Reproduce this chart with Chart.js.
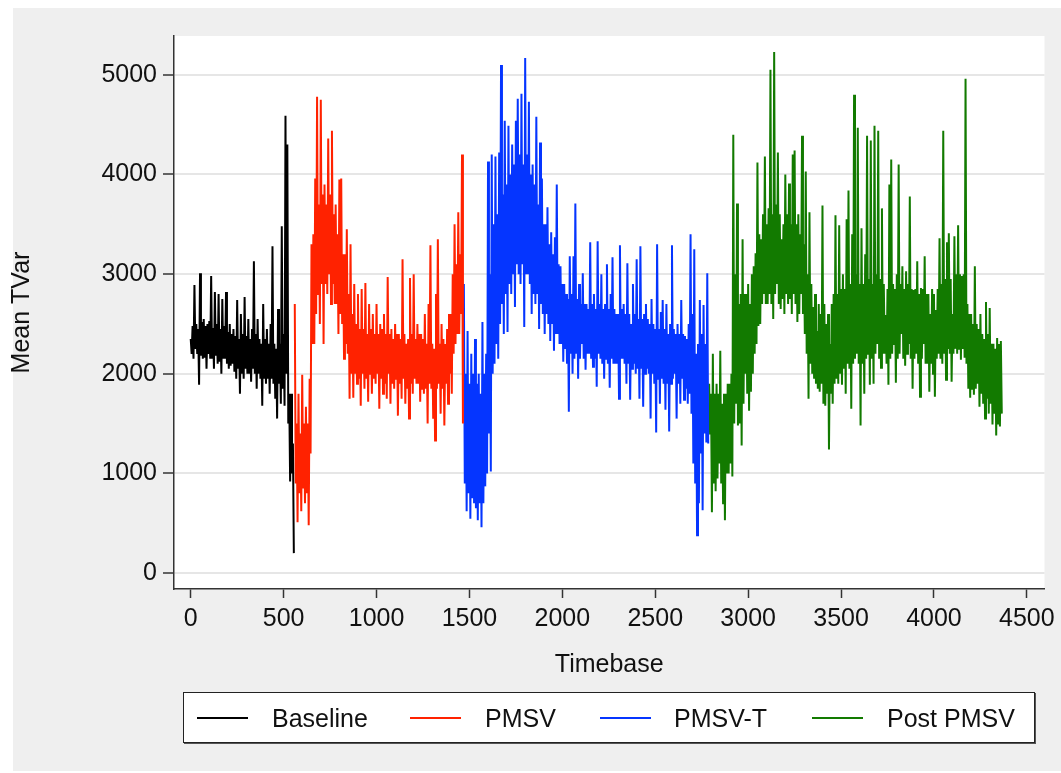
<!DOCTYPE html>
<html>
<head>
<meta charset="utf-8">
<script src="https://cdn.jsdelivr.net/npm/chart.js@4.4.1/dist/chart.umd.min.js"></script>
<style>
  body { margin: 0; background: #fff; font-family: "Liberation Sans", Arial, sans-serif; }
  #wrap { position: relative; width: 1061px; height: 773px; }
  #legend {
    position: absolute; left: 183px; top: 692px; width: 850px; height: 49px;
    background: #fff; border: 1px solid #222; box-shadow: 1px 1px 0 #555;
  }
  .key { position: absolute; top: 24px; height: 2px; width: 51px; }
  .lab { position: absolute; top: 11px; font-size: 25px; line-height: 28px; color: #111; white-space: nowrap; }
</style>
</head>
<body>
<div id="wrap">
  <canvas id="chartTVar" width="1061" height="773"></canvas>
  <div id="legend"></div>
</div>
<script>
// values every 5 timebase units
const sampleStep = 5;
const timebaseTicks = [0, 500, 1000, 1500, 2000, 2500, 3000, 3500, 4000, 4500];
const tvarTicks = [0, 1000, 2000, 3000, 4000, 5000];

const seriesNames = ["Baseline", "PMSV", "PMSV-T", "Post PMSV"];
const seriesColors = ["#000000", "#ff2200", "#0535ff", "#127a00"];
const seriesStart = [0, 560, 1470, 2790];

const baseline = [
  2350, 2200, 2480, 2150, 2890, 2250, 2500, 2200, 2450, 1890,
  3010, 2180, 2520, 2150, 2550, 2160, 2480, 2050, 2500, 2200,
  2530, 2150, 2980, 2150, 2460, 2050, 2820, 2180, 2500, 2100,
  2800, 2120, 2450, 2000, 2750, 2150, 2480, 2150, 2820, 2100,
  2420, 2050, 2500, 2080, 2400, 2100, 2450, 2020, 2380, 1950,
  2740, 2050, 2350, 1800, 2600, 2000, 2400, 1950, 2770, 2050,
  2380, 2000, 2550, 2000, 2350, 1920, 2450, 2050, 3130, 2000,
  2400, 1850, 2550, 2000, 2350, 1950, 2300, 1680, 2700, 1950,
  2350, 1900, 2450, 1950, 2300, 1800, 2500, 1950, 3280, 1900,
  2300, 1750, 2250, 1550, 2650, 1900, 2300, 1700, 3480, 1850,
  2400, 1680, 4590, 2000, 4300, 1500, 1800, 920, 1800, 1000, 1300, 200
];

const pmsv = [
  2700, 900, 1500, 510, 1800, 800, 1400, 620, 1990, 850,
  1500, 700, 1670, 800, 1500, 480, 1950, 1200, 3300, 2300,
  3400, 2300, 3960, 2600, 4780, 2800, 3700, 2500, 4750, 2900,
  3800, 2300, 3900, 2900, 3700, 2800, 4360, 3000, 3800, 2700,
  4440, 2900, 3600, 2700, 3700, 2700, 3400, 2400, 3950, 2600,
  3960, 2500, 3200, 2150, 3200, 2300, 3450, 2200, 2800, 1750,
  3300, 2000, 2600, 1760, 2900, 2000, 2500, 1900, 2800, 1950,
  2450, 1680, 2850, 2000, 2450, 1850, 2910, 1950, 2400, 1720,
  2700, 2000, 2450, 1800, 2600, 1950, 2400, 1900, 2700, 2000,
  2400, 1650, 2500, 1950, 2450, 1800, 2600, 1900, 2400, 1750,
  2970, 2000, 2400, 1700, 2450, 1900, 2350, 1850, 2500, 1950,
  2400, 1580, 2400, 1900, 2350, 1750, 3150, 1950, 2400, 1700,
  2300, 1850, 2350, 1550, 2960, 1900, 2400, 1800, 3000, 1950,
  2350, 1900, 2500, 1900, 2400, 1720, 2400, 1850, 2350, 1800,
  2600, 1850, 2300, 1500, 2700, 1900, 3290, 1850, 2300, 1550,
  2250, 1330, 2800, 1850, 3350, 1900, 2300, 1600, 2500, 1850,
  2350, 1480, 2300, 1900, 2450, 1700, 2600, 2000, 2600, 1800,
  3000, 2200, 3500, 2300, 3100, 2400, 3620, 2400, 3200, 2600,
  4200, 1500
];

const pmsvT = [
  2900, 900, 2000, 620, 2430, 800, 1900, 545, 2200, 750,
  2000, 700, 2350, 650, 1900, 530, 2000, 700, 1800, 460,
  2520, 700, 2000, 870, 2200, 1000, 4130, 1400, 3000, 1020,
  4200, 2000, 3500, 2100, 4180, 2300, 3600, 2150, 4220, 2500,
  5100, 2700, 3800, 2400, 4540, 2800, 3900, 2420, 4490, 2900,
  4000, 2800, 4300, 3000, 4100, 2670, 4540, 3100, 4760, 3000,
  4200, 2900, 4810, 3100, 4100, 2470, 5170, 3000, 4200, 3000,
  4730, 2900, 4000, 2600, 4100, 2800, 3900, 2700, 4580, 2800,
  3700, 2450, 4320, 2700, 3960, 2600, 3500, 2400, 3500, 2600,
  3670, 2500, 3300, 2330, 3420, 2500, 3200, 2230, 3370, 2400,
  3900, 2400, 3100, 2300, 3080, 2300, 2900, 2120, 2900, 2250,
  2800, 2100, 2750, 1620, 3180, 2200, 2800, 2000, 3180, 2150,
  3710, 2200, 2750, 1950, 2900, 2150, 2700, 2300, 3010, 2150,
  2700, 2040, 2700, 2200, 2650, 2200, 3320, 2150, 2700, 2070,
  2800, 2150, 2650, 1870, 3330, 2200, 2700, 2150, 3000, 2100,
  2650, 1950, 2700, 2150, 3100, 2100, 2650, 1860, 2800, 2150,
  3170, 2100, 2650, 2100, 2600, 2100, 2600, 1750, 3290, 2150,
  2650, 2150, 2700, 2100, 2600, 1900, 3110, 2100, 2600, 1740,
  2500, 2050, 2900, 2100, 2600, 2000, 3150, 2050, 2550, 1750,
  3280, 2050, 2550, 1670, 2600, 2000, 2700, 2050, 2550, 2000,
  2500, 1550, 2750, 2000, 2500, 1900, 2450, 1410, 3300, 1950,
  2450, 1700, 2620, 1950, 2740, 1900, 2450, 1640, 2700, 1900,
  2400, 1420, 2500, 1900, 3290, 1950, 2450, 2000, 2400, 1550,
  2500, 1900, 2400, 1700, 2740, 1950, 2400, 1740, 2380, 1850,
  2350, 1700, 2500, 1800, 3400, 1600, 2600, 1100, 3250, 900,
  2200, 380, 2300, 700, 2740, 1200, 2400, 630, 2690, 1400,
  2300, 1310, 3010, 1300
];

const postPmsv = [
  1900, 1400, 1800, 610, 2200, 900, 1800, 820, 1900, 950,
  1800, 1100, 2230, 900, 1700, 700, 1800, 530, 1800, 1000,
  1900, 1000, 1900, 1100, 2000, 970, 4400, 1500, 3000, 1700,
  3710, 1480, 2700, 1500, 2800, 1280, 3350, 1700, 2800, 2000,
  2800, 1800, 2900, 1630, 2700, 1820, 3000, 2000, 3080, 2200,
  3210, 2300, 4120, 2480, 3400, 2500, 3350, 2700, 3600, 2800,
  4180, 2700, 3500, 2700, 3660, 2800, 5050, 2700, 3600, 2550,
  5230, 2800, 3700, 2900, 4220, 2700, 3600, 2650, 3350, 2750,
  3500, 2600, 4000, 2800, 3600, 2700, 3910, 2750, 3500, 2600,
  4200, 2800, 4240, 2700, 3500, 2520, 3600, 2600, 3400, 2800,
  4390, 2600, 3300, 2400, 4030, 2200, 3000, 1750, 3620, 2100,
  2900, 2000, 2670, 1950, 2800, 1900, 2430, 1850, 2700, 1820,
  2600, 1900, 3690, 1700, 2700, 1680, 2500, 1800, 2600, 1240,
  2300, 1800, 2700, 1700, 2800, 1900, 3590, 1950, 2800, 1900,
  3490, 2000, 2850, 1890, 3000, 2050, 2850, 1800, 3550, 2100,
  3840, 2050, 2900, 1650, 3400, 2100, 4800, 2150, 3000, 2200,
  4470, 2100, 2900, 1480, 3460, 2100, 2900, 1800, 3200, 2150,
  4390, 2200, 2950, 1890, 4340, 2150, 2900, 1900, 4490, 2200,
  3000, 2300, 4440, 2150, 2950, 2060, 3660, 2200, 2900, 2200,
  2590, 2100, 2850, 1890, 3900, 2150, 4150, 2200, 2900, 2300,
  2850, 1910, 3000, 2150, 4100, 2200, 2900, 2400, 3080, 2150,
  2850, 2080, 3030, 2200, 2900, 2300, 3780, 2150, 2850, 1850,
  2840, 2150, 2850, 2200, 3130, 2100, 2800, 1770, 2860, 2150,
  2850, 2300, 3180, 2100, 2800, 2100, 2800, 1820, 2600, 2100,
  2850, 2000, 2800, 1770, 2640, 2150, 2850, 2200, 3360, 2150,
  2900, 2100, 4440, 2200, 2950, 1940, 3320, 2250, 3410, 2200,
  2950, 1920, 2600, 2200, 3380, 2250, 3000, 2200, 3490, 2250,
  3000, 2140, 2980, 2250, 3000, 2160, 4960, 2100, 2700, 1850,
  2600, 1760, 2600, 1850, 2500, 1790, 3080, 1850, 2500, 1900,
  2450, 1670, 2600, 1800, 2400, 1700, 2350, 1550, 2720, 1750,
  2400, 1600, 2660, 1700, 2300, 1490, 2300, 1600, 2250, 1380,
  2360, 1500, 2300, 1470, 2330, 1600
];

const seriesValues = [baseline, pmsv, pmsvT, postPmsv];

Chart.defaults.font.family = '"Liberation Sans", Arial, sans-serif';
Chart.defaults.color = "#111";

const panelBg = {
  id: "panelBg",
  beforeDraw(chart) {
    const { ctx, chartArea: a } = chart;
    ctx.save();
    ctx.fillStyle = "#ffffff";
    ctx.fillRect(0, 0, chart.width, chart.height);
    ctx.fillStyle = "#efefef";
    ctx.fillRect(13, 8, chart.width - 13, 763);
    ctx.fillStyle = "#ffffff";
    ctx.fillRect(a.left, a.top, a.right - a.left, a.bottom - a.top);
    ctx.restore();
  }
};

const datasets = seriesNames.map((name, i) => ({
  label: name,
  data: seriesValues[i].map((v, k) => ({ x: seriesStart[i] + k * sampleStep, y: v })),
  borderColor: seriesColors[i],
  backgroundColor: seriesColors[i],
  borderWidth: 2,
  pointRadius: 0,
  tension: 0,
  fill: false
}));

new Chart(document.getElementById("chartTVar"), {
  type: "line",
  data: { datasets },
  plugins: [panelBg],
  options: {
    responsive: false,
    animation: false,
    devicePixelRatio: 1,
    layout: { padding: { left: 0, top: 36, right: 16, bottom: 84 } },
    plugins: { legend: { display: false }, tooltip: { enabled: false } },
    scales: {
      x: {
        type: "linear",
        min: -90,
        max: 4595,
        afterBuildTicks: s => { s.ticks = timebaseTicks.map(v => ({ value: v })); },
        afterFit: s => { s.height = 100; },
        grid: { drawOnChartArea: false, tickLength: 9, tickColor: "#333", tickWidth: 1.5 },
        border: { color: "#333", width: 1.5 },
        ticks: { font: { size: 25 }, padding: 6, maxRotation: 0, autoSkip: false, callback: v => String(v) },
        title: { display: true, text: "Timebase", font: { size: 25 }, padding: { top: 0, bottom: 9 } }
      },
      y: {
        min: -160,
        max: 5390,
        afterBuildTicks: s => { s.ticks = tvarTicks.map(v => ({ value: v })); },
        afterFit: s => { s.width = 174; },
        grid: { color: "#e6e6e6", lineWidth: 2, tickLength: 11, tickColor: "#333", tickWidth: 1.5 },
        border: { color: "#333", width: 1.5 },
        ticks: { font: { size: 25 }, padding: 6, autoSkip: false, callback: v => String(v) },
        title: { display: true, text: "Mean TVar", font: { size: 25 }, padding: { top: 7, bottom: 0 } }
      }
    }
  }
});

// legend as html, same names and colours as the datasets
const legendPos = [[13, 88], [226, 301], [416, 490], [628, 703]];
const legend = document.getElementById("legend");
seriesNames.forEach((name, i) => {
  const key = document.createElement("div");
  key.className = "key";
  key.style.left = legendPos[i][0] + "px";
  key.style.background = seriesColors[i];
  const lab = document.createElement("div");
  lab.className = "lab";
  lab.style.left = legendPos[i][1] + "px";
  lab.textContent = name;
  legend.appendChild(key);
  legend.appendChild(lab);
});
</script>
</body>
</html>
